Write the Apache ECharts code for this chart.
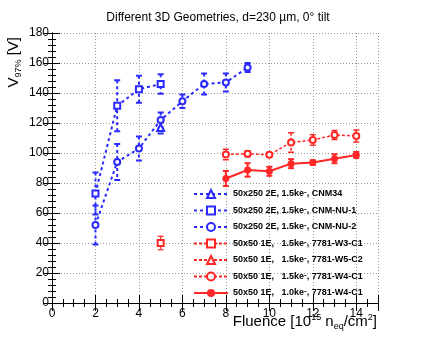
<!DOCTYPE html>
<html>
<head>
<meta charset="utf-8">
<script src="https://cdn.jsdelivr.net/npm/echarts@6/dist/echarts.min.js"></script>
<style>
  html, body { margin: 0; padding: 0; background: #fff; }
  #container { width: 436px; height: 338px; }
</style>
</head>
<body>
<div id="container"></div>
<script>
// data: fluence [1e15 neq/cm2], V97% [V], error [V]
var fluCNM34 = [5];
var vCNM34 = [117];
var errCNM34 = [4];

var fluNU1 = [2, 3, 4, 5];
var vNU1 = [73, 131.5, 142.5, 146];
var errNU1 = [14, 17, 9, 6.5];

var fluNU2 = [2, 3, 4, 5, 6, 7, 8, 9];
var vNU2 = [52, 94, 103, 122, 134.5, 146, 147, 157];
var errNU2 = [13, 12, 8, 5, 4.5, 7, 6, 3];

var fluW3C1 = [5];
var vW3C1 = [40];
var errW3C1 = [4.5];

var fluW5C2 = [];
var vW5C2 = [];
var errW5C2 = [];

var fluW4C1a = [8, 9, 10, 11, 12, 13, 14];
var vW4C1a = [99, 99.5, 98.8, 107, 108.7, 112, 111.3];
var errW4C1a = [3.5, 2, 1.5, 6.5, 3.5, 3, 4];

var fluW4C1b = [8, 9, 10, 11, 12, 13, 14];
var vW4C1b = [83, 88.7, 87.8, 92.9, 93.6, 96.2, 98.7];
var errW4C1b = [5, 4.5, 3, 3, 1.5, 3, 2];

var names = [
  '50x250 2E, 1.5ke-, CNM34',
  '50x250 2E, 1.5ke-, CNM-NU-1',
  '50x250 2E, 1.5ke-, CNM-NU-2',
  '50x50 1E,   1.5ke-, 7781-W3-C1',
  '50x50 1E,   1.5ke-, 7781-W5-C2',
  '50x50 1E,   1.5ke-, 7781-W4-C1',
  '50x50 1E,   1.0ke-, 7781-W4-C1 '
];

var BLUE = '#2a2aff', RED = '#ff2626';
var font = 'Liberation Sans, Arial, sans-serif';

var myChart = echarts.init(document.getElementById('container'));

function pts(xs, ys, es) {
  return xs.map(function (x, i) { return [x, ys[i], es[i]]; });
}

function errBars(color, width, dash) {
  return function (params, api) {
    var x = api.value(0), y = api.value(1), e = api.value(2);
    var hi = api.coord([x, y + e]), lo = api.coord([x, y - e]);
    var st = { stroke: color, lineWidth: width, lineDash: dash };
    return {
      type: 'group',
      children: [
        { type: 'line', shape: { x1: hi[0], y1: hi[1], x2: lo[0], y2: lo[1] }, style: st },
        { type: 'line', shape: { x1: hi[0] - 3, y1: hi[1], x2: hi[0] + 3, y2: hi[1] }, style: { stroke: color, lineWidth: width } },
        { type: 'line', shape: { x1: lo[0] - 3, y1: lo[1], x2: lo[0] + 3, y2: lo[1] }, style: { stroke: color, lineWidth: width } }
      ]
    };
  };
}

var defs = [
  { d: pts(fluCNM34, vCNM34, errCNM34), c: BLUE, sym: 'emptyTriangle', size: 7, w: 2, dash: [3, 3] },
  { d: pts(fluNU1, vNU1, errNU1), c: BLUE, sym: 'emptyRect', size: 6, w: 2, dash: [3, 3] },
  { d: pts(fluNU2, vNU2, errNU2), c: BLUE, sym: 'emptyCircle', size: 6, w: 2, dash: [3, 3] },
  { d: pts(fluW3C1, vW3C1, errW3C1), c: RED, sym: 'emptyRect', size: 6, w: 1.2, dash: [3, 2] },
  { d: pts(fluW5C2, vW5C2, errW5C2), c: RED, sym: 'emptyTriangle', size: 7, w: 1.2, dash: [3, 2] },
  { d: pts(fluW4C1a, vW4C1a, errW4C1a), c: RED, sym: 'emptyCircle', size: 6, w: 1.5, dash: [3, 2] },
  { d: pts(fluW4C1b, vW4C1b, errW4C1b), c: RED, sym: 'circle', size: 7, w: 2, dash: 'solid' }
];

var series = [];
defs.forEach(function (s, i) {
  series.push({
    type: 'custom',
    name: 'err' + i,
    renderItem: errBars(s.c, s.w, s.dash === 'solid' ? null : s.dash),
    data: s.d,
    z: 2,
    clip: true
  });
  series.push({
    type: 'line',
    name: names[i],
    data: s.d,
    symbol: s.sym,
    symbolSize: s.size,
    color: s.c,
    itemStyle: { color: s.c, borderWidth: 1.3 },
    lineStyle: { color: s.c, width: s.w, type: s.dash },
    z: 3
  });
});

var gridLine = { show: true, lineStyle: { color: '#9a9a9a', type: [1, 2], width: 1 } };
var blackLine = { show: true, lineStyle: { color: '#000', width: 1 } };

option = {
  animation: false,
  title: {
    text: 'Different 3D Geometries, d=230 \u00b5m, 0\u00b0 tilt',
    left: 'center', top: 7,
    textStyle: { fontFamily: font, fontSize: 12, fontWeight: 'normal', color: '#000' }
  },
  grid: { left: 52, right: 58, top: 33, bottom: 35 },
  legend: {
    data: names,
    orient: 'vertical',
    left: 188, top: 183,
    itemWidth: 34, itemHeight: 10,
    itemGap: 4.5,
    textStyle: {
      fontFamily: font, fontSize: 9, fontWeight: 'bold', color: '#000', lineHeight: 12,
      rich: { s: { fontFamily: font, fontSize: 8, fontWeight: 'bold', lineHeight: 8, verticalAlign: 'top', padding: [0, 0, 4, 0] } }
    },
    formatter: function (n) { return n.replace('ke-', 'ke{s|-}'); }
  },
  xAxis: [{
    type: 'value', min: 0, max: 15, interval: 2,
    axisLine: blackLine,
    axisTick: { inside: true, length: 8, lineStyle: { color: '#000' } },
    minorTick: { show: true, splitNumber: 4, length: 4, lineStyle: { color: '#000' } },
    splitLine: gridLine,
    axisLabel: { showMaxLabel: false, fontFamily: font, fontSize: 12, color: '#000', margin: 5 }
  }, {
    type: 'value', min: 0, max: 15, interval: 2, position: 'top',
    axisLine: blackLine,
    axisTick: { inside: true, length: 8, lineStyle: { color: '#000' } },
    minorTick: { show: true, splitNumber: 4, length: 4, lineStyle: { color: '#000' } },
    splitLine: { show: false }, axisLabel: { show: false }
  }],
  yAxis: [{
    type: 'value', min: 0, max: 180, interval: 20,
    axisLine: blackLine,
    axisTick: { inside: true, length: 8, lineStyle: { color: '#000' } },
    minorTick: { show: true, splitNumber: 5, length: 4, lineStyle: { color: '#000' } },
    splitLine: gridLine,
    axisLabel: { fontFamily: font, fontSize: 12, color: '#000', margin: 3 }
  }, {
    type: 'value', min: 0, max: 180, interval: 20, position: 'right',
    axisLine: blackLine,
    axisTick: { inside: true, length: 8, lineStyle: { color: '#000' } },
    minorTick: { show: true, splitNumber: 5, length: 4, lineStyle: { color: '#000' } },
    splitLine: { show: false }, axisLabel: { show: false }
  }],
  graphic: [{
    type: 'text', x: 14, y: 37, rotation: Math.PI / 2,
    style: {
      text: '{a|V}{b|97%}{a| [V]}',
      align: 'right', verticalAlign: 'middle',
      rich: {
        a: { fontFamily: font, fontSize: 15, fill: '#000', lineHeight: 18 },
        b: { fontFamily: font, fontSize: 9, fill: '#000', verticalAlign: 'bottom', lineHeight: 12 }
      }
    }
  }, {
    type: 'text', x: 377, y: 322,
    style: {
      text: '{a|Fluence [10}{p|15}{a| n}{b|eq}{a|/cm}{p|2}{a|]}',
      align: 'right', verticalAlign: 'middle',
      rich: {
        a: { fontFamily: font, fontSize: 15, fill: '#000', lineHeight: 18 },
        p: { fontFamily: font, fontSize: 9, fill: '#000', verticalAlign: 'top', lineHeight: 12 },
        b: { fontFamily: font, fontSize: 9, fill: '#000', verticalAlign: 'bottom', lineHeight: 12 }
      }
    }
  }],
  series: series
};

myChart.setOption(option);
</script>
</body>
</html>
